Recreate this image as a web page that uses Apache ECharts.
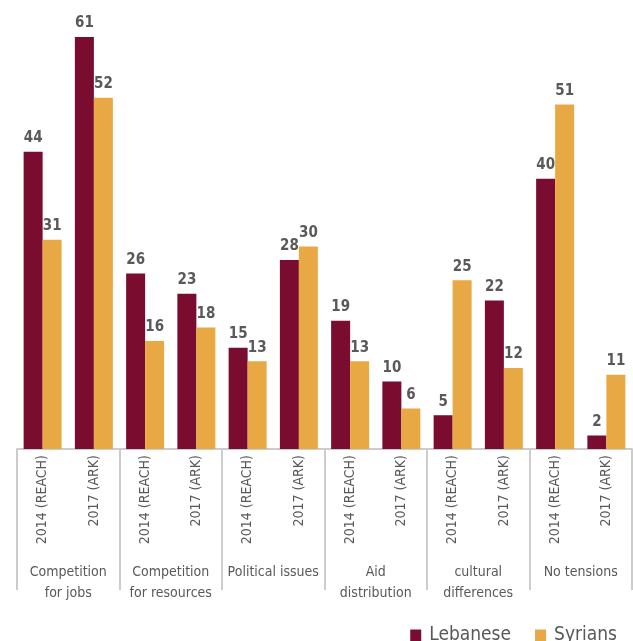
<!DOCTYPE html>
<html>
<head>
<meta charset="utf-8">
<script src="https://cdn.jsdelivr.net/npm/echarts@6/dist/echarts.min.js"></script>
<style>
  html, body { margin: 0; padding: 0; background: #fff; }
  #chart { width: 633px; height: 641px; }
</style>
</head>
<body>
<div id="chart"></div>
<script>
var groups = ['Competition\nfor jobs', 'Competition\nfor resources', 'Political issues',
              'Aid\ndistribution', 'cultural\ndifferences', 'No tensions'];
var surveys = ['2014 (REACH)', '2017 (ARK)'];
var lebanese = [44, 61, 26, 23, 15, 28, 19, 10, 5, 22, 40, 2];
var syrians  = [31, 52, 16, 18, 13, 30, 13, 6, 25, 12, 51, 11];

var subCategories = [];
groups.forEach(function () {
    surveys.forEach(function (s) { subCategories.push(s); });
});

var font = '"DejaVu Sans Condensed", "DejaVu Sans", sans-serif';

var myChart = echarts.init(document.getElementById('chart'));
var barLabel = {
    show: true,
    position: 'top',
    distance: 6,
    color: '#595959',
    fontFamily: font,
    fontWeight: 'bold',
    fontSize: 15
};
var option = {
    animation: false,
    grid: {
        left: 17,
        right: 1,
        top: 10,
        bottom: 192
    },
    legend: {
        data: ['Lebanese', 'Syrians'],
        right: 11,
        top: 621,
        itemWidth: 11,
        itemHeight: 12,
        itemGap: 24,
        icon: 'rect',
        textStyle: {
            color: '#595959',
            fontFamily: font,
            fontSize: 19,
            padding: [0, 0, 0, 3]
        }
    },
    xAxis: [{
        type: 'category',
        data: subCategories,
        position: 'bottom',
        axisLine: {
            onZero: false,
            lineStyle: { color: '#cccccc', width: 2 }
        },
        axisTick: { show: false },
        axisLabel: {
            interval: 0,
            rotate: 90,
            margin: 6,
            color: '#595959',
            fontFamily: font,
            fontSize: 14
        }
    }, {
        type: 'category',
        data: groups,
        position: 'bottom',
        axisLine: { show: false, onZero: false },
        axisTick: {
            show: true,
            interval: 0,
            length: 141,
            lineStyle: { color: '#cccccc', width: 2 }
        },
        axisLabel: {
            interval: 0,
            margin: 113,
            color: '#595959',
            fontFamily: font,
            fontSize: 14,
            lineHeight: 21
        }
    }],
    yAxis: {
        type: 'value',
        min: 0,
        max: 65,
        show: false
    },
    series: [{
        name: 'Lebanese',
        type: 'bar',
        data: lebanese,
        barWidth: 19,
        barGap: '0%',
        itemStyle: { color: '#7a0c30' },
        label: barLabel
    }, {
        name: 'Syrians',
        type: 'bar',
        data: syrians,
        barWidth: 19,
        barGap: '0%',
        itemStyle: { color: '#e8a843' },
        label: barLabel
    }]
};
myChart.setOption(option);
</script>
</body>
</html>
